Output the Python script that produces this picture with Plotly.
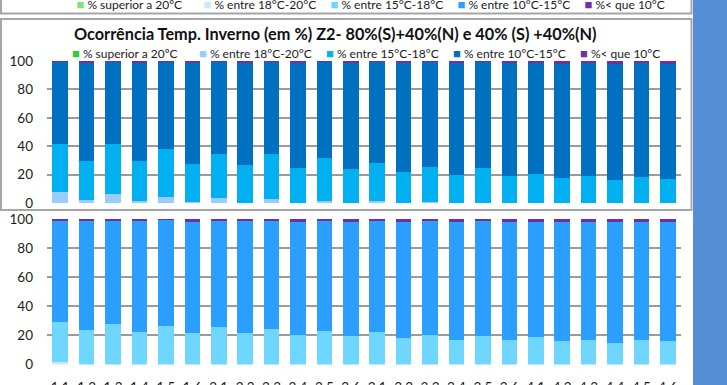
import plotly.graph_objects as go

W, H = 727, 385

categories = ["1.1", "1.2", "1.3", "1.4", "1.5", "1.6",
              "2.1", "2.2", "2.3", "2.4", "2.5", "2.6",
              "3.1", "3.2", "3.3", "3.4", "3.5", "3.6",
              "4.1", "4.2", "4.3", "4.4", "4.5", "4.6"]

series_names = ["% superior a 20ºC", "% entre 18°C-20°C", "% entre 15°C-18°C",
                "% entre 10°C-15°C", "%< que 10°C"]

# Upper chart: Z2- 80%(S)+40%(N) e 40% (S) +40%(N)
top_sup20 = [0.0] * 24
top_18_20 = [8.0, 1.9, 6.1, 1.2, 4.5, 0.5, 3.3, 0.3, 2.6, 0.3, 1.6, 0.0,
             1.2, 0.0, 0.5, 0.0, 0.0, 0.0, 0.0, 0.0, 0.0, 0.0, 0.0, 0.0]
top_15_18 = [33.4, 27.5, 35.3, 28.2, 33.6, 26.8, 31.1, 26.3, 31.8, 24.6, 29.9, 23.8,
             27.0, 21.6, 24.9, 19.8, 24.3, 18.8, 20.5, 17.4, 18.8, 16.0, 18.1, 16.7]
top_10_15 = [58.4, 69.8, 58.4, 69.8, 61.6, 71.8, 65.4, 72.2, 65.0, 73.8, 68.1, 74.7,
             71.1, 77.0, 74.0, 78.7, 75.3, 80.0, 78.3, 80.6, 79.9, 81.8, 80.4, 81.1]
top_lt10 = [0.2, 0.8, 0.2, 0.8, 0.3, 0.9, 0.2, 1.2, 0.6, 1.3, 0.4, 1.5,
            0.7, 1.4, 0.6, 1.5, 0.4, 1.2, 1.2, 2.0, 1.3, 2.2, 1.5, 2.2]

# Lower chart (overlapping chart below)
low_sup20 = [0.0] * 24
low_18_20 = [1.8] + [0.0] * 23
low_15_18 = [27.1, 23.9, 27.8, 22.5, 26.6, 21.6, 25.7, 21.8, 24.3, 20.0, 22.9, 19.5,
             22.2, 18.3, 20.0, 16.7, 19.5, 16.5, 18.6, 16.1, 17.0, 14.9, 17.0, 16.1]
low_10_15 = [70.2, 75.0, 71.5, 76.1, 72.9, 76.6, 73.6, 76.6, 75.0, 78.2, 76.0, 78.7,
             76.7, 79.4, 78.9, 81.0, 79.4, 81.4, 79.6, 81.6, 81.2, 82.8, 81.2, 81.6]
low_lt10 = [0.9, 1.1, 0.7, 1.4, 0.5, 1.8, 0.7, 1.6, 0.7, 1.8, 1.1, 1.8,
            1.1, 2.3, 1.1, 2.3, 1.1, 2.1, 1.8, 2.3, 1.8, 2.3, 1.8, 2.3]

y_ticks = [0, 20, 40, 60, 80, 100]

title_text = "Ocorrência Temp. Inverno (em %) Z2- 80%(S)+40%(N) e 40% (S) +40%(N)"

top_colors = ["#33cc33", "#99ccff", "#00b0f0", "#0070c0", "#7030a0"]
low_colors = ["#7ee27e", "#cce8ff", "#6fd6ff", "#2b9fff", "#7030a0"]

FONT = "Lato"

def px_x(p):
    return p / W

def px_y(p):
    return 1 - p / H

def key_label(name, col):
    return ("<span style='font-size:13px;color:%s'>■</span> %s" % (col, name))

fig = go.Figure()

top_series = [top_sup20, top_18_20, top_15_18, top_10_15, top_lt10]
low_series = [low_sup20, low_18_20, low_15_18, low_10_15, low_lt10]

for name, vals, col in zip(series_names, top_series, top_colors):
    fig.add_trace(go.Bar(x=categories, y=vals, name=name, marker_color=col,
                         marker_line_width=0, xaxis="x", yaxis="y", showlegend=False))
for name, vals, col in zip(series_names, low_series, low_colors):
    fig.add_trace(go.Bar(x=categories, y=vals, name=name, marker_color=col,
                         marker_line_width=0, xaxis="x2", yaxis="y2", showlegend=False))

# legend entries (small square keys drawn in the label)
hidden = dict(symbol="square", size=1, color="rgba(0,0,0,0)", line=dict(width=0))
for name, col in zip(series_names, top_colors):
    fig.add_trace(go.Scatter(x=[None], y=[None], mode="markers", name=key_label(name, col),
                             marker=hidden, xaxis="x", yaxis="y", legend="legend"))
for name, col in zip(series_names, low_colors):
    fig.add_trace(go.Scatter(x=[None], y=[None], mode="markers", name=key_label(name, col),
                             marker=hidden, xaxis="x2", yaxis="y2", legend="legend2"))

xdom = [px_x(47), px_x(681)]
grid = dict(showgrid=True, gridcolor="#9a9a9a", gridwidth=1.5, zeroline=False,
            range=[0, 100], tickvals=y_ticks, showline=False, ticks="",
            ticklabelstandoff=13, tickfont=dict(family=FONT, size=13.5, color="#1a1a1a"))

fig.update_layout(
    width=W, height=H,
    margin=dict(l=0, r=0, t=0, b=0, autoexpand=False),
    paper_bgcolor="white", plot_bgcolor="white",
    barmode="stack", bargap=0.41,
    xaxis=dict(domain=xdom, type="category", anchor="y", showticklabels=False,
               showgrid=False, showline=False, ticks="", range=[-0.5, 23.5]),
    yaxis=dict(domain=[px_y(203), px_y(61)], anchor="x", **grid),
    xaxis2=dict(domain=xdom, type="category", anchor="y2", showgrid=False,
                showline=False, ticks="", range=[-0.5, 23.5], ticklabelstandoff=13,
                tickfont=dict(family=FONT, size=13.5, color="#1a1a1a")),
    yaxis2=dict(domain=[px_y(364.5), px_y(219)], anchor="x2", **grid),
    legend=dict(orientation="h", x=px_x(32), xanchor="left", y=px_y(53),
                yanchor="middle", xref="container", yref="container", traceorder="normal",
                entrywidth=82, entrywidthmode="pixels", bgcolor="rgba(0,0,0,0)",
                font=dict(family=FONT, size=12, color="#1a1a1a")),
    legend2=dict(orientation="h", x=px_x(36.5), xanchor="left", y=px_y(4),
                 yanchor="middle", xref="container", yref="container", traceorder="normal",
                 entrywidth=82, entrywidthmode="pixels", bgcolor="rgba(0,0,0,0)",
                 font=dict(family=FONT, size=12, color="#1a1a1a")),
    annotations=[
        dict(text="<b>" + title_text + "</b>", xref="paper", yref="paper",
             x=px_x(335), y=px_y(33), xanchor="center", yanchor="middle",
             showarrow=False, font=dict(family=FONT, size=16.3, color="#111111")),
    ],
    shapes=[
        # right blue panel
        dict(type="rect", xref="paper", yref="paper", x0=px_x(693), x1=1.0,
             y0=0, y1=1, fillcolor="#558ed5", line_width=0, layer="above"),
        # previous chart box (cut at top)
        dict(type="rect", xref="paper", yref="paper", x0=px_x(1), x1=px_x(691.5),
             y0=px_y(13.5), y1=px_y(-10), line=dict(color="#a6a6a6", width=2),
             fillcolor="rgba(0,0,0,0)", layer="above"),
        # main chart box
        dict(type="rect", xref="paper", yref="paper", x0=px_x(1), x1=px_x(691.5),
             y0=px_y(210), y1=px_y(19), line=dict(color="#a6a6a6", width=2),
             fillcolor="rgba(0,0,0,0)", layer="above"),
    ],
)

fig.write_html("out.html", config={"displayModeBar": False},
               post_script="document.body.style.margin='0';document.body.style.overflow='hidden';")
